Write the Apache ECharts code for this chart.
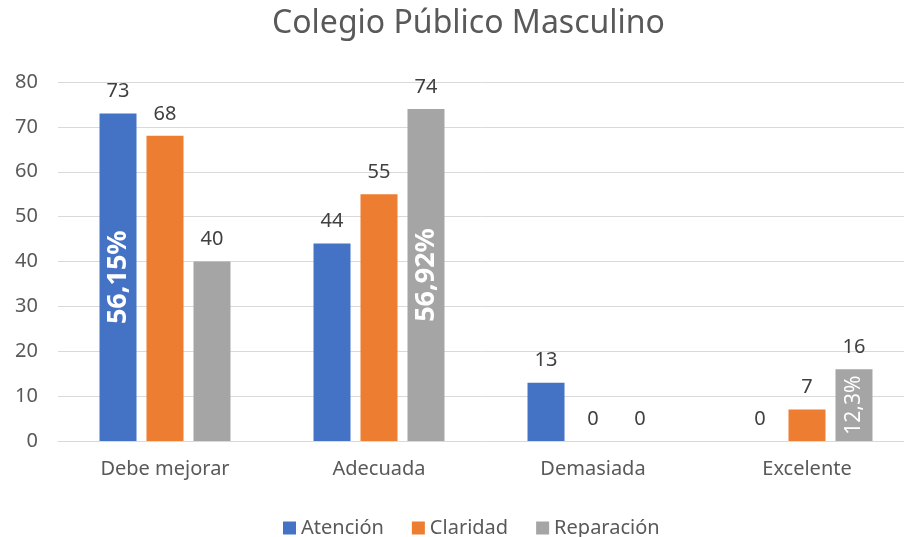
<!DOCTYPE html>
<html>
<head>
<meta charset="utf-8">
<script src="https://cdn.jsdelivr.net/npm/echarts@6/dist/echarts.min.js"></script>
<style>
  html, body { margin: 0; padding: 0; background: #fff; }
  #main { width: 904px; height: 537px; }
</style>
</head>
<body>
<div id="main"></div>
<script>
// datos del gráfico
const categorias = ['Debe mejorar', 'Adecuada', 'Demasiada', 'Excelente'];
const atencion = [73, 44, 13, 0];
const claridad = [68, 55, 0, 7];
const reparacion = [40, 74, 0, 16];
// etiquetas de porcentaje dentro de las barras
const atencionPct = ['56,15%', '', '', ''];
const claridadPct = ['', '', '', ''];
const reparacionPct = ['', '56,92%', '', '12,3%'];
const yTicks = { min: 0, max: 80, interval: 10 };

const colores = ['#4472C4', '#ED7D31', '#A5A5A5'];
const FONT = 'Noto Sans';

function serieValor(name, data, color) {
  return {
    name: name,
    type: 'bar',
    data: data,
    barWidth: 37,
    barGap: '27%',
    itemStyle: { color: color },
    label: {
      show: true,
      position: 'top',
      distance: 12,
      color: '#404040',
      fontSize: 20,
      fontFamily: FONT
    }
  };
}

// serie transparente en un segundo eje x para poner el % dentro de la barra
function seriePct(name, data, pct, size, weight) {
  return {
    name: name,
    type: 'bar',
    xAxisIndex: 1,
    data: data,
    barWidth: 37,
    barGap: '27%',
    silent: true,
    itemStyle: { color: 'rgba(0,0,0,0)' },
    label: {
      show: true,
      position: 'inside',
      rotate: 90,
      color: '#fff',
      fontSize: size,
      fontWeight: weight,
      fontFamily: FONT,
      formatter: function (p) { return pct[p.dataIndex]; }
    }
  };
}

const myChart = echarts.init(document.getElementById('main'));
const option = {
  animation: false,
  title: {
    text: 'Colegio Público Masculino',
    left: 267,
    top: 3,
    textStyle: { color: '#595959', fontSize: 32, fontWeight: 'normal', fontFamily: FONT }
  },
  legend: {
    data: ['Atención', 'Claridad', 'Reparación'],
    top: 513,
    left: 278,
    itemWidth: 13,
    itemHeight: 13,
    itemGap: 28,
    icon: 'rect',
    textStyle: { color: '#595959', fontSize: 20, fontFamily: FONT }
  },
  // la cuadrícula se sale un poco por la derecha, como en el original
  grid: { left: 58, width: 856, top: 82, bottom: 96, outerBoundsMode: 'none' },
  xAxis: [
    {
      type: 'category',
      data: categorias,
      axisLine: { lineStyle: { color: '#D9D9D9' } },
      axisTick: { show: false },
      axisLabel: { color: '#595959', fontSize: 20, fontFamily: FONT, margin: 18 }
    },
    { type: 'category', data: categorias, show: false }
  ],
  yAxis: {
    type: 'value',
    min: yTicks.min,
    max: yTicks.max,
    interval: yTicks.interval,
    axisLine: { show: false },
    axisTick: { show: false },
    splitLine: { lineStyle: { color: '#D9D9D9' } },
    axisLabel: { color: '#595959', fontSize: 20, fontFamily: FONT, margin: 20 }
  },
  series: [
    serieValor('Atención', atencion, colores[0]),
    serieValor('Claridad', claridad, colores[1]),
    serieValor('Reparación', reparacion, colores[2]),
    seriePct('pctA', atencion, atencionPct, 27, 'bold'),
    seriePct('pctC', claridad, claridadPct, 21, 'normal'),
    seriePct('pctR', reparacion, reparacionPct, 27, 'bold')
  ]
};
myChart.setOption(option);
// el 12,3% es más pequeño y sin negrita
myChart.setOption({
  series: [{}, {}, {}, {}, {}, {
    data: reparacion.map(function (v, i) {
      return i === 3
        ? { value: v, label: { fontSize: 21, fontWeight: 'normal' } }
        : v;
    })
  }]
});
window.onresize = function () {
  myChart.resize();
};
</script>
</body>
</html>
